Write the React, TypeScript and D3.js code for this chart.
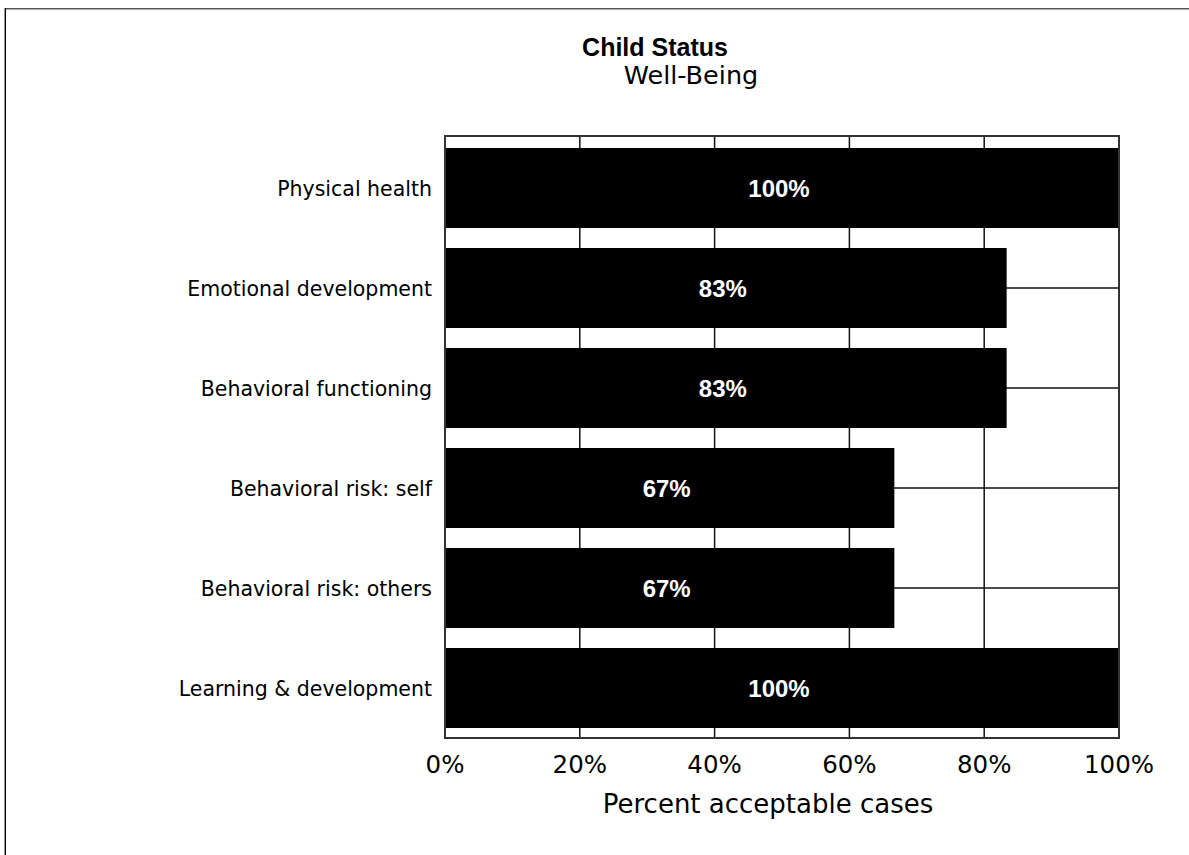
import React from "react";
import * as d3 from "d3";

const categories = [
  "Physical health",
  "Emotional development",
  "Behavioral functioning",
  "Behavioral risk: self",
  "Behavioral risk: others",
  "Learning & development",
];
const values = [100, 83.33, 83.33, 66.67, 66.67, 100];
const valueLabels = ["100%", "83%", "83%", "67%", "67%", "100%"];
const xTicks = [0, 20, 40, 60, 80, 100];
const title = "Child Status";
const subtitle = "Well-Being";
const xTitle = "Percent acceptable cases";

const W = 1189;
const H = 855;
const plot = { left: 445, right: 1119, top: 136, bottom: 738 };
const FONT_B = "'Liberation Sans', Arial, sans-serif";
const FONT = "'DejaVu Sans', sans-serif";

export default function App() {
  const x = d3.scaleLinear().domain([0, 100]).range([plot.left, plot.right]);
  const y = d3
    .scaleBand<string>()
    .domain(categories)
    .range([plot.top + 2, plot.bottom])
    .paddingInner(0.2)
    .paddingOuter(0.1);
  const bw = y.bandwidth();

  return (
    <svg
      width={W}
      height={H}
      style={{ position: "absolute", left: 0, top: 0, background: "#fff" }}
    >
      {/* page frame */}
      <line x1={4} x2={W} y1={8.5} y2={8.5} stroke="#555" strokeWidth={1} />
      <line x1={6} x2={W} y1={9.5} y2={9.5} stroke="#aaa" strokeWidth={1} />
      <line x1={4.5} x2={4.5} y1={8} y2={H} stroke="#999" strokeWidth={1} />
      <line x1={5.5} x2={5.5} y1={8} y2={H} stroke="#000" strokeWidth={1} />

      {/* titles */}
      <text x={655} y={56} textAnchor="middle" fontFamily={FONT_B} fontWeight="bold" fontSize={25} fill="#000">
        {title}
      </text>
      <text x={691} y={84} textAnchor="middle" fontFamily={FONT} fontSize={25.5} fill="#000">
        {subtitle}
      </text>

      {/* horizontal center lines */}
      {categories.map((c) => (
        <line
          key={"h" + c}
          x1={plot.left}
          x2={plot.right}
          y1={(y(c) as number) + bw / 2}
          y2={(y(c) as number) + bw / 2}
          stroke="#111"
          strokeWidth={1.5}
        />
      ))}
      {/* vertical grid lines */}
      {xTicks.slice(1, -1).map((t) => (
        <line
          key={"v" + t}
          x1={x(t)}
          x2={x(t)}
          y1={plot.top}
          y2={plot.bottom}
          stroke="#111"
          strokeWidth={1.5}
        />
      ))}

      {/* bars */}
      {categories.map((c, i) => (
        <rect
          key={"b" + c}
          x={x(0)}
          y={y(c) as number}
          width={x(values[i]) - x(0)}
          height={bw}
          fill="#000"
        />
      ))}

      {/* plot border */}
      <rect
        x={plot.left}
        y={plot.top}
        width={plot.right - plot.left}
        height={plot.bottom - plot.top}
        fill="none"
        stroke="#333"
        strokeWidth={2}
      />

      {/* value labels */}
      {categories.map((c, i) => (
        <text
          key={"v" + c}
          x={(x(0) + x(values[i])) / 2 - 3}
          y={(y(c) as number) + bw / 2 + 8.5}
          textAnchor="middle"
          fontFamily={FONT_B}
          fontWeight="bold"
          fontSize={24}
          fill="#fff"
        >
          {valueLabels[i]}
        </text>
      ))}

      {/* category labels */}
      {categories.map((c) => (
        <text
          key={"c" + c}
          x={432}
          y={(y(c) as number) + bw / 2 + 8}
          textAnchor="end"
          fontFamily={FONT}
          fontSize={20.5}
          fill="#000"
        >
          {c}
        </text>
      ))}

      {/* x tick labels */}
      {xTicks.map((t) => (
        <text
          key={"t" + t}
          x={x(t)}
          y={773}
          textAnchor="middle"
          fontFamily={FONT}
          fontSize={24.5}
          fill="#000"
        >
          {t + "%"}
        </text>
      ))}

      {/* x axis title */}
      <text x={768} y={813} textAnchor="middle" fontFamily={FONT} fontSize={26} fill="#000">
        {xTitle}
      </text>
    </svg>
  );
}
